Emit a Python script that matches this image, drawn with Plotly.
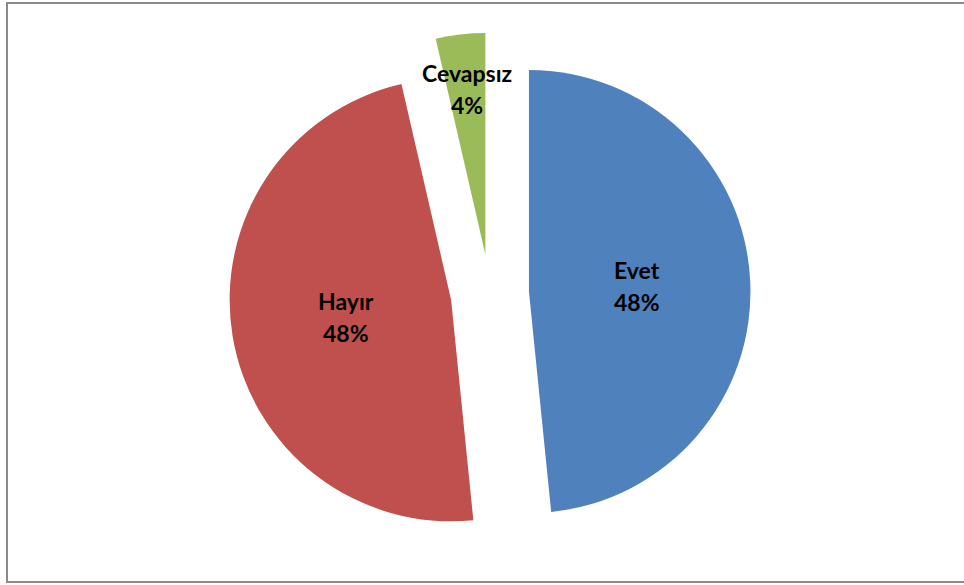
import math
import plotly.graph_objects as go

# Survey answers (share of respondents, %)
labels = ["Evet", "Hayır", "Cevapsız"]
values = [48.4, 48.0, 3.6]
colors = ["#4F81BD", "#C0504D", "#9BBB59"]

W, H = 964, 585
PULL = 0.177

# Pie box in pixels (margins are zero, so paper == pixels)
box_x0, box_x1 = 229.1, 750.5
box_y0, box_y1 = 32.8, 554.2  # from top

fig = go.Figure(
    go.Pie(
        labels=labels,
        values=values,
        marker=dict(colors=colors, line=dict(width=0)),
        sort=False,
        direction="clockwise",
        rotation=0,
        pull=[PULL] * len(values),
        textinfo="none",
        hoverinfo="label+percent",
        showlegend=False,
        domain=dict(
            x=[box_x0 / W, box_x1 / W],
            y=[1 - box_y1 / H, 1 - box_y0 / H],
        ),
    )
)

# Data labels placed along each slice's bisector
cx = (box_x0 + box_x1) / 2
cy = (box_y0 + box_y1) / 2
r = min(box_x1 - box_x0, box_y1 - box_y0) / (2 + 2 * PULL)
radial = [0.49, 0.48, 0.75]
total = sum(values)
start = 0.0
annotations = []
font = dict(family="Lato, 'Open Sans', sans-serif", size=23, color="black", weight="bold")
for lab, val, f in zip(labels, values, radial):
    span = val / total * 360.0
    mid = math.radians(start + span / 2)
    start += span
    d = PULL * r + f * r
    px = cx + d * math.sin(mid)
    py = cy - d * math.cos(mid)
    pct = f"{round(val / total * 100)}%"
    for txt, dy in ((lab, -16), (pct, 16)):
        annotations.append(
            dict(
                x=px / W,
                y=1 - (py + dy) / H,
                xref="paper",
                yref="paper",
                text=f"<b>{txt}</b>",
                showarrow=False,
                font=font,
                xanchor="center",
                yanchor="middle",
            )
        )

fig.update_layout(
    width=W,
    height=H,
    margin=dict(l=0, r=0, t=0, b=0),
    paper_bgcolor="white",
    plot_bgcolor="white",
    annotations=annotations,
    shapes=[
        dict(
            type="rect",
            xref="paper",
            yref="paper",
            x0=7 / W,
            x1=1.01,
            y0=1 - 582 / H,
            y1=1 - 3 / H,
            line=dict(color="#8a8a8a", width=2),
            fillcolor="rgba(0,0,0,0)",
            layer="below",
        )
    ],
)

fig.write_html("out.html")
